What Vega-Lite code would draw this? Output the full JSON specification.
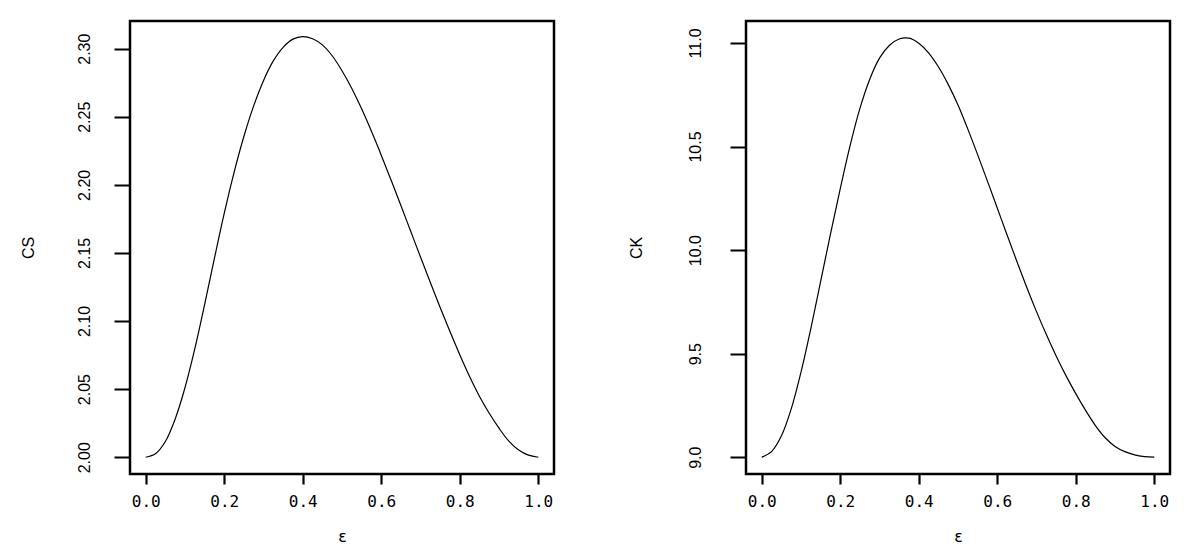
{
  "$schema": "https://vega.github.io/schema/vega-lite/v6.json",
  "padding": {"left": 18, "top": 19, "right": 5, "bottom": 5},
  "background": "white",
  "spacing": 192,
  "bounds": "flush",
  "config": {
    "view": {"stroke": "black", "strokeWidth": 2.5},
    "axis": {"grid": false, "domain": false, "tickColor": "black", "labelColor": "black", "titleColor": "black", "titleFontWeight": "normal", "labelFlush": false, "labelOverlap": false}
  },
  "datasets": {
    "cs": [
      {"eps": 0, "CS": 2.0}, {"eps": 0.025, "CS": 2.0025}, {"eps": 0.05, "CS": 2.0115}, {"eps": 0.075, "CS": 2.028},
      {"eps": 0.1, "CS": 2.051}, {"eps": 0.125, "CS": 2.0795}, {"eps": 0.15, "CS": 2.112}, {"eps": 0.175, "CS": 2.146},
      {"eps": 0.2, "CS": 2.179}, {"eps": 0.225, "CS": 2.209}, {"eps": 0.25, "CS": 2.2355}, {"eps": 0.275, "CS": 2.258},
      {"eps": 0.3, "CS": 2.2765}, {"eps": 0.325, "CS": 2.291}, {"eps": 0.35, "CS": 2.301}, {"eps": 0.375, "CS": 2.307},
      {"eps": 0.4, "CS": 2.3088}, {"eps": 0.425, "CS": 2.3073}, {"eps": 0.45, "CS": 2.3028}, {"eps": 0.475, "CS": 2.2948},
      {"eps": 0.5, "CS": 2.2838}, {"eps": 0.525, "CS": 2.2708}, {"eps": 0.55, "CS": 2.2558}, {"eps": 0.575, "CS": 2.2393},
      {"eps": 0.6, "CS": 2.2218}, {"eps": 0.625, "CS": 2.2035}, {"eps": 0.65, "CS": 2.1848}, {"eps": 0.675, "CS": 2.1659},
      {"eps": 0.7, "CS": 2.147}, {"eps": 0.725, "CS": 2.1283}, {"eps": 0.75, "CS": 2.11}, {"eps": 0.775, "CS": 2.0923},
      {"eps": 0.8, "CS": 2.0753}, {"eps": 0.825, "CS": 2.0593}, {"eps": 0.85, "CS": 2.0448}, {"eps": 0.875, "CS": 2.0323},
      {"eps": 0.9, "CS": 2.0213}, {"eps": 0.925, "CS": 2.0118}, {"eps": 0.95, "CS": 2.0053}, {"eps": 0.975, "CS": 2.0015},
      {"eps": 1.0, "CS": 2.0}
    ],
    "ck": [
      {"eps": 0, "CK": 9.0}, {"eps": 0.025, "CK": 9.027}, {"eps": 0.05, "CK": 9.102}, {"eps": 0.075, "CK": 9.232},
      {"eps": 0.1, "CK": 9.41}, {"eps": 0.125, "CK": 9.62}, {"eps": 0.15, "CK": 9.848}, {"eps": 0.175, "CK": 10.076},
      {"eps": 0.2, "CK": 10.296}, {"eps": 0.225, "CK": 10.503}, {"eps": 0.25, "CK": 10.683}, {"eps": 0.275, "CK": 10.824},
      {"eps": 0.3, "CK": 10.927}, {"eps": 0.325, "CK": 10.988}, {"eps": 0.35, "CK": 11.019}, {"eps": 0.375, "CK": 11.023},
      {"eps": 0.4, "CK": 10.999}, {"eps": 0.425, "CK": 10.952}, {"eps": 0.45, "CK": 10.885}, {"eps": 0.475, "CK": 10.8},
      {"eps": 0.5, "CK": 10.7}, {"eps": 0.525, "CK": 10.584}, {"eps": 0.55, "CK": 10.461}, {"eps": 0.575, "CK": 10.333},
      {"eps": 0.6, "CK": 10.203}, {"eps": 0.625, "CK": 10.073}, {"eps": 0.65, "CK": 9.945}, {"eps": 0.675, "CK": 9.821},
      {"eps": 0.7, "CK": 9.703}, {"eps": 0.725, "CK": 9.592}, {"eps": 0.75, "CK": 9.489}, {"eps": 0.775, "CK": 9.394},
      {"eps": 0.8, "CK": 9.307}, {"eps": 0.825, "CK": 9.226}, {"eps": 0.85, "CK": 9.153}, {"eps": 0.875, "CK": 9.094},
      {"eps": 0.9, "CK": 9.052}, {"eps": 0.925, "CK": 9.027}, {"eps": 0.95, "CK": 9.011}, {"eps": 0.975, "CK": 9.003},
      {"eps": 1.0, "CK": 9.0}
    ]
  },
  "hconcat": [
    {
      "width": 424,
      "height": 453,
      "data": {"name": "cs"},
      "mark": {"type": "line", "color": "black", "strokeWidth": 1.2, "interpolate": "catmull-rom"},
      "encoding": {
        "x": {
          "field": "eps", "type": "quantitative",
          "scale": {"domain": [-0.04, 1.04], "nice": false, "zero": false},
          "axis": {"title": "ε", "values": [0, 0.2, 0.4, 0.6, 0.8, 1], "format": ".1f", "tickSize": 10, "tickWidth": 2.2,
                   "labelFont": "DejaVu Sans Mono", "labelFontSize": 16, "labelPadding": 9,
                   "titleFont": "DejaVu Sans", "titleFontSize": 16, "titleBaseline": "alphabetic", "titleY": 67}
        },
        "y": {
          "field": "CS", "type": "quantitative",
          "scale": {"domain": [1.98768, 2.32032], "nice": false, "zero": false},
          "axis": {"title": "CS", "values": [2, 2.05, 2.1, 2.15, 2.2, 2.25, 2.3], "format": ".2f", "tickSize": 16, "tickWidth": 2,
                   "labelAngle": -90, "labelAlign": "center", "labelBaseline": "alphabetic", "labelPadding": 25,
                   "labelFont": "Liberation Sans", "labelFontSize": 16,
                   "titleFont": "Liberation Sans", "titleFontSize": 16,
                   "titleAngle": -90, "titleAlign": "center", "titleBaseline": "alphabetic", "titleX": -97, "titleY": 226.5}
        }
      }
    },
    {
      "width": 424,
      "height": 453,
      "data": {"name": "ck"},
      "mark": {"type": "line", "color": "black", "strokeWidth": 1.2, "interpolate": "catmull-rom"},
      "encoding": {
        "x": {
          "field": "eps", "type": "quantitative",
          "scale": {"domain": [-0.04, 1.04], "nice": false, "zero": false},
          "axis": {"title": "ε", "values": [0, 0.2, 0.4, 0.6, 0.8, 1], "format": ".1f", "tickSize": 10, "tickWidth": 2.2,
                   "labelFont": "DejaVu Sans Mono", "labelFontSize": 16, "labelPadding": 9,
                   "titleFont": "DejaVu Sans", "titleFontSize": 16, "titleBaseline": "alphabetic", "titleY": 67}
        },
        "y": {
          "field": "CK", "type": "quantitative",
          "scale": {"domain": [8.919, 11.106], "nice": false, "zero": false},
          "axis": {"title": "CK", "values": [9, 9.5, 10, 10.5, 11], "format": ".1f", "tickSize": 16, "tickWidth": 2,
                   "labelAngle": -90, "labelAlign": "center", "labelBaseline": "alphabetic", "labelPadding": 30,
                   "labelFont": "Liberation Sans", "labelFontSize": 16,
                   "titleFont": "Liberation Sans", "titleFontSize": 16,
                   "titleAngle": -90, "titleAlign": "center", "titleBaseline": "alphabetic", "titleX": -105, "titleY": 226.5}
        }
      }
    }
  ]
}
